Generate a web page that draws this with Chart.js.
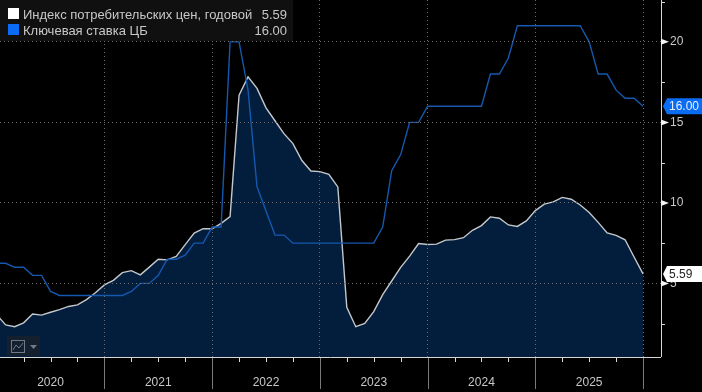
<!DOCTYPE html>
<html>
<head>
<meta charset="utf-8">
<style>
  html, body { margin: 0; padding: 0; background: #000; }
  canvas { display: block; }
</style>
<script src="https://cdn.jsdelivr.net/npm/chart.js@4"></script>
</head>
<body>
<canvas id="chart" width="702" height="392"></canvas>
<script>
// month-end values, Dec 2019 .. Dec 2025
const months = [
  '2019-12',
  '2020-01','2020-02','2020-03','2020-04','2020-05','2020-06','2020-07','2020-08','2020-09','2020-10','2020-11','2020-12',
  '2021-01','2021-02','2021-03','2021-04','2021-05','2021-06','2021-07','2021-08','2021-09','2021-10','2021-11','2021-12',
  '2022-01','2022-02','2022-03','2022-04','2022-05','2022-06','2022-07','2022-08','2022-09','2022-10','2022-11','2022-12',
  '2023-01','2023-02','2023-03','2023-04','2023-05','2023-06','2023-07','2023-08','2023-09','2023-10','2023-11','2023-12',
  '2024-01','2024-02','2024-03','2024-04','2024-05','2024-06','2024-07','2024-08','2024-09','2024-10','2024-11','2024-12',
  '2025-01','2025-02','2025-03','2025-04','2025-05','2025-06','2025-07','2025-08','2025-09','2025-10','2025-11','2025-12'
];
const cpiValues = [
  3.05,
  2.42,2.31,2.55,3.10,3.03,3.21,3.37,3.57,3.67,3.99,4.42,4.91,
  5.19,5.67,5.79,5.53,6.01,6.50,6.46,6.68,7.41,8.13,8.40,8.39,
  8.73,9.15,16.69,17.83,17.11,15.90,15.10,14.30,13.68,12.63,11.98,11.94,
  11.77,10.99,3.51,2.31,2.51,3.25,4.30,5.15,6.00,6.69,7.48,7.42,
  7.44,7.69,7.72,7.84,8.30,8.59,9.13,9.05,8.63,8.54,8.88,9.52,
  9.92,10.06,10.34,10.23,9.87,9.40,8.79,8.14,7.98,7.71,6.64,5.59
];
const rateValues = [
  6.25,
  6.25,6.00,6.00,5.50,5.50,4.50,4.25,4.25,4.25,4.25,4.25,4.25,
  4.25,4.25,4.50,5.00,5.00,5.50,6.50,6.50,6.75,7.50,7.50,8.50,
  8.50,20.00,20.00,17.00,11.00,9.50,8.00,8.00,7.50,7.50,7.50,7.50,
  7.50,7.50,7.50,7.50,7.50,7.50,8.50,12.00,13.00,15.00,15.00,16.00,
  16.00,16.00,16.00,16.00,16.00,16.00,18.00,18.00,19.00,21.00,21.00,21.00,
  21.00,21.00,21.00,21.00,21.00,20.00,18.00,18.00,17.00,16.50,16.50,16.00
];
const yTicks = [2.5, 5, 7.5, 10, 12.5, 15, 17.5, 20, 22.5];
const yearLabels = { 6: '2020', 18: '2021', 30: '2022', 42: '2023', 54: '2024', 66: '2025' };
const legendRows = ['Индекс потребительских цен, годовой', 'Ключевая ставка ЦБ'];

const CPI_COLOR = '#c4c8cc';
const RATE_COLOR = '#1558ae';
const FILL_COLOR = '#031d3d';
const AXIS_COLOR = '#d8d8d8';
const GRID_COLOR = '#6e6e6e';
const TEXT_COLOR = '#c8c8c8';
const FONT = '"Liberation Sans", Arial, sans-serif';

const xy = values => values.map((v, i) => ({ x: i, y: v }));
const quarterTicks = months.map((m, i) => i).filter(i => i % 3 === 0 && i > 0);

function badge(ctx, y, text, bg, fg) {
  ctx.fillStyle = bg;
  ctx.beginPath();
  ctx.moveTo(663, y);
  ctx.lineTo(667, y - 8);
  ctx.lineTo(702, y - 8);
  ctx.lineTo(702, y + 8);
  ctx.lineTo(667, y + 8);
  ctx.closePath();
  ctx.fill();
  ctx.fillStyle = fg;
  ctx.font = '12px ' + FONT;
  ctx.textAlign = 'left';
  ctx.textBaseline = 'middle';
  ctx.fillText(text, 669, y + 0.5);
}

// legend box, axis ticks and triangles, value badges, chart-type button
const overlay = {
  id: 'overlay',
  afterDraw(chart) {
    const { ctx, scales: { x, y }, chartArea } = chart;
    ctx.save();

    // quarter ticks, long grey ones at year ends
    ctx.lineWidth = 1;
    quarterTicks.forEach(i => {
      const px = Math.round(x.getPixelForValue(i)) + 0.5;
      const isYear = i % 12 === 0;
      ctx.strokeStyle = isYear ? '#7a7a7a' : AXIS_COLOR;
      ctx.beginPath();
      ctx.moveTo(px, chartArea.bottom + 1);
      ctx.lineTo(px, isYear ? 389 : chartArea.bottom + 5);
      ctx.stroke();
    });

    // minor y ticks
    ctx.strokeStyle = AXIS_COLOR;
    yTicks.filter(v => v % 5 !== 0).forEach(v => {
      const py = Math.round(y.getPixelForValue(v)) + 0.5;
      ctx.beginPath();
      ctx.moveTo(chartArea.right, py);
      ctx.lineTo(chartArea.right + 4, py);
      ctx.stroke();
    });

    // white triangles on major y ticks
    ctx.fillStyle = '#f4f4f4';
    yTicks.filter(v => v % 5 === 0).forEach(v => {
      const py = y.getPixelForValue(v);
      ctx.beginPath();
      ctx.moveTo(661, py - 3);
      ctx.lineTo(669, py);
      ctx.lineTo(661, py + 3);
      ctx.closePath();
      ctx.fill();
    });

    // legend
    ctx.fillStyle = '#101010';
    ctx.fillRect(0, 0, 293, 41);
    ctx.fillStyle = '#ffffff';
    ctx.fillRect(8, 8, 11, 11);
    ctx.fillStyle = '#0a6cf5';
    ctx.fillRect(8, 24, 11, 11);
    ctx.font = '13px ' + FONT;
    ctx.textBaseline = 'middle';
    ctx.fillStyle = TEXT_COLOR;
    ctx.textAlign = 'left';
    ctx.fillText(legendRows[0], 23, 15);
    ctx.fillText(legendRows[1], 23, 31);
    ctx.textAlign = 'right';
    ctx.fillText(cpiValues[cpiValues.length - 1].toFixed(2), 287, 15);
    ctx.fillText(rateValues[rateValues.length - 1].toFixed(2), 287, 31);

    // last value badges
    const lastRate = rateValues[rateValues.length - 1];
    const lastCpi = cpiValues[cpiValues.length - 1];
    badge(ctx, y.getPixelForValue(lastRate), lastRate.toFixed(2), '#0a6cf5', '#e8f0ff');
    badge(ctx, y.getPixelForValue(lastCpi), lastCpi.toFixed(2), '#ffffff', '#222222');

    // chart-type button
    ctx.fillStyle = '#15202e';
    ctx.fillRect(7, 336, 33, 20);
    ctx.strokeStyle = '#6d7a8a';
    ctx.strokeRect(11.5, 340.5, 13, 12);
    ctx.beginPath();
    ctx.moveTo(13, 350);
    ctx.lineTo(16, 345);
    ctx.lineTo(19, 348);
    ctx.lineTo(23, 343);
    ctx.stroke();
    ctx.fillStyle = '#6d7a8a';
    ctx.beginPath();
    ctx.moveTo(30, 345);
    ctx.lineTo(37, 345);
    ctx.lineTo(33.5, 349);
    ctx.closePath();
    ctx.fill();

    ctx.restore();
  }
};

new Chart(document.getElementById('chart'), {
  type: 'line',
  data: {
    datasets: [
      {
        label: legendRows[1],
        data: xy(rateValues),
        borderColor: RATE_COLOR,
        borderWidth: 1.4,
        pointRadius: 0,
        tension: 0,
        fill: false
      },
      {
        label: legendRows[0],
        data: xy(cpiValues),
        borderColor: CPI_COLOR,
        borderWidth: 1.4,
        pointRadius: 0,
        tension: 0,
        fill: 'start',
        backgroundColor: FILL_COLOR
      }
    ]
  },
  options: {
    responsive: false,
    animation: false,
    layout: { padding: 0 },
    plugins: { legend: { display: false }, tooltip: { enabled: false } },
    scales: {
      x: {
        type: 'linear',
        min: 0.37,
        max: 74,
        afterFit(scale) {
          scale.height = 35;
          scale.paddingLeft = 0;
          scale.paddingRight = 0;
        },
        afterBuildTicks(scale) { scale.ticks = quarterTicks.map(v => ({ value: v })); },
        border: { display: true, color: AXIS_COLOR, width: 1, dash: [1, 3], z: 2 },
        grid: {
          z: 1,
          tickLength: 4,
          tickColor: 'transparent',
          tickBorderDash: [],
          lineWidth: c => (c.tick && c.tick.value % 12 === 0 ? 1 : 0),
          color: GRID_COLOR
        },
        ticks: {
          color: TEXT_COLOR,
          font: { family: FONT, size: 12 },
          maxRotation: 0,
          autoSkip: false,
          padding: 14,
          callback: v => yearLabels[v] || ''
        }
      },
      y: {
        position: 'right',
        min: 0.43,
        max: 22.6,
        afterFit(scale) {
          scale.width = 41;
          scale.paddingTop = 0;
          scale.paddingBottom = 0;
        },
        afterBuildTicks(scale) { scale.ticks = yTicks.map(v => ({ value: v })); },
        border: { display: true, color: AXIS_COLOR, width: 1, dash: [1, 3], z: 2 },
        grid: {
          z: 1,
          tickLength: 4,
          tickColor: 'transparent',
          tickBorderDash: [],
          lineWidth: c => (c.tick && c.tick.value % 5 === 0 ? 1 : 0),
          color: GRID_COLOR
        },
        ticks: {
          color: TEXT_COLOR,
          font: { family: FONT, size: 12 },
          padding: 5,
          callback: v => (v % 5 === 0 ? String(v) : '')
        }
      }
    }
  },
  plugins: [overlay]
});
</script>
</body>
</html>
